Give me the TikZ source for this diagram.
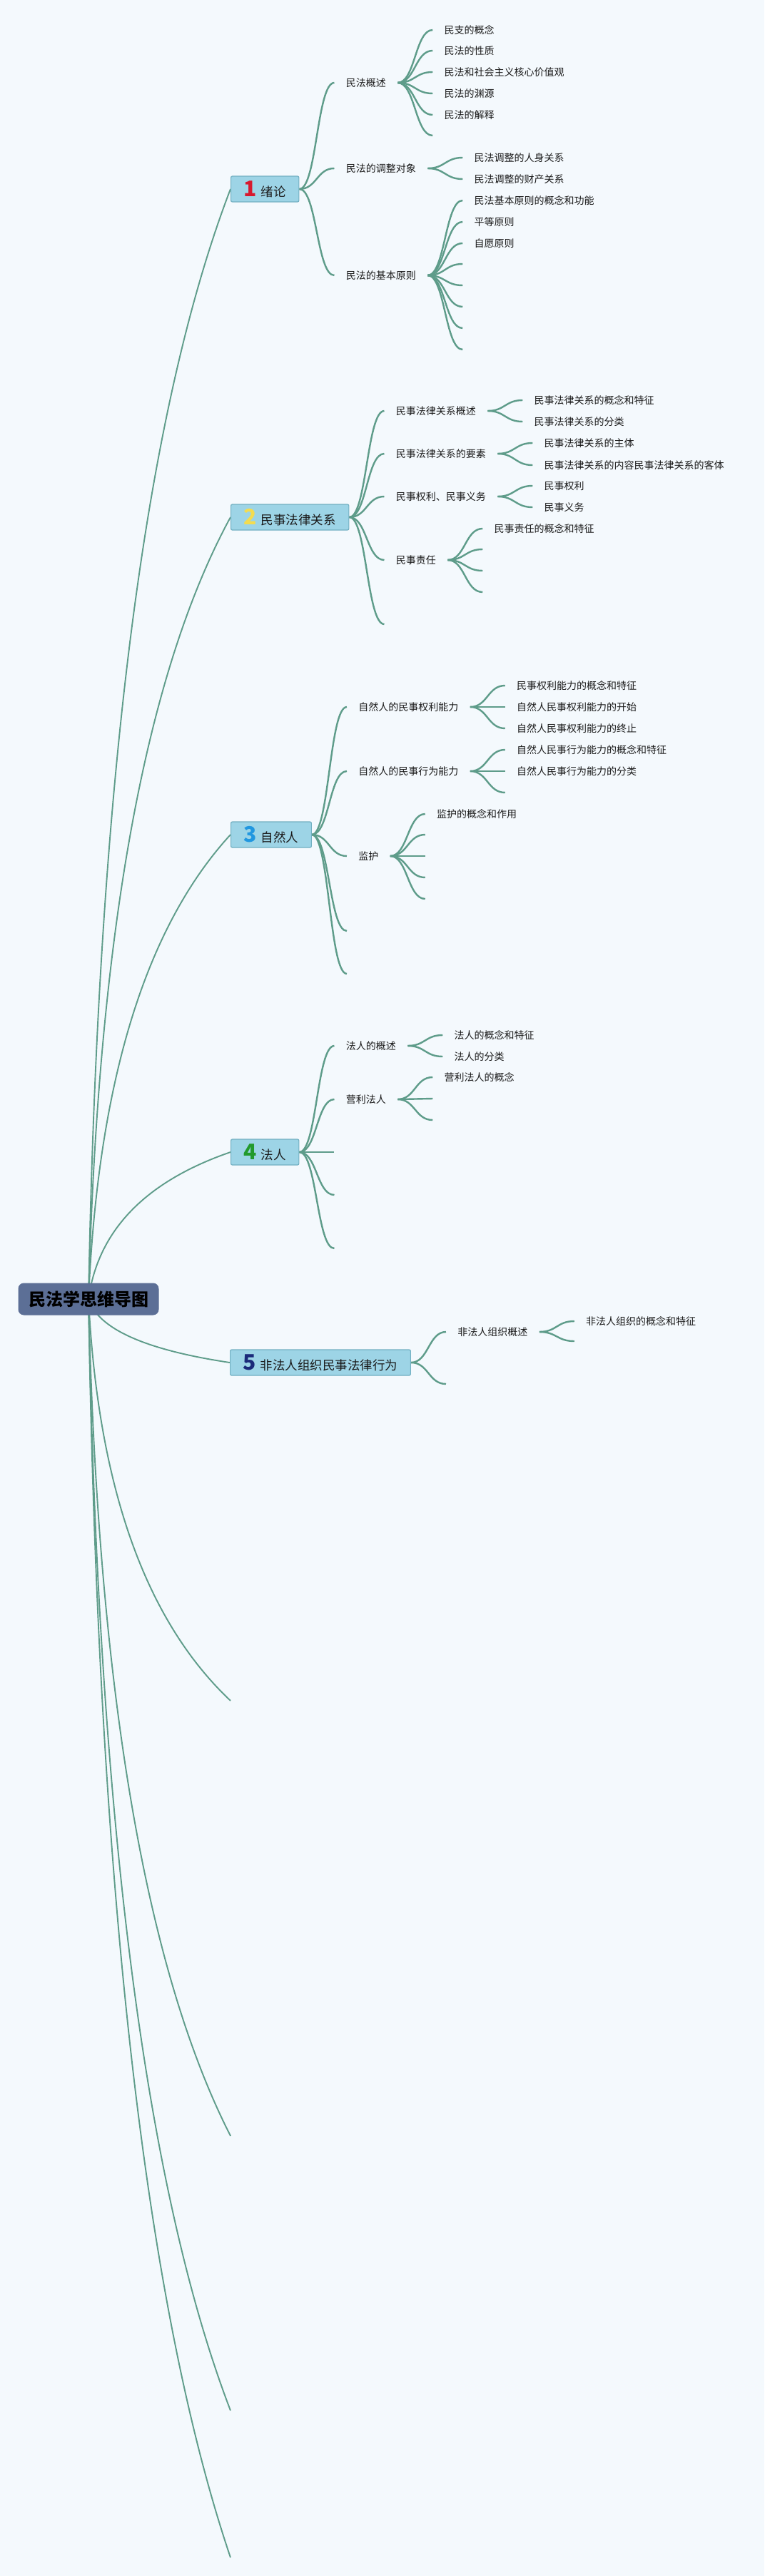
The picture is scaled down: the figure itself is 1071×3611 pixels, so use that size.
\documentclass[tikz,border=0pt]{standalone}
\usepackage{fontspec}
\setmainfont{Noto Sans CJK SC}
\usetikzlibrary{calc}
\definecolor{bgc}{HTML}{F4F9FD}
\definecolor{lnc}{HTML}{5E9C8A}
\definecolor{boxfill}{HTML}{9DD4E6}
\definecolor{boxline}{HTML}{72B0C2}
\definecolor{rootfill}{HTML}{5C6F96}
\definecolor{txt}{HTML}{1A1A1A}
\definecolor{n1}{HTML}{D7192E}
\definecolor{n2}{HTML}{F3DC50}
\definecolor{n3}{HTML}{2197E0}
\definecolor{n4}{HTML}{229A2C}
\definecolor{n5}{HTML}{1B2A7A}
\pgfdeclarelayer{back}
\pgfdeclarelayer{bg}
\pgfsetlayers{back,bg,main}
\tikzset{
  x=0.5pt, y=-0.5pt,
  topic/.style={anchor=west, inner xsep=8pt, inner ysep=1pt, text=txt,
    font=\fontsize{7pt}{8.4pt}\selectfont},
  mbox/.style={anchor=west, draw=boxline, fill=boxfill, line width=0.6pt,
    rounded corners=1pt, minimum height=18pt, inner xsep=9pt, inner ysep=1pt,
    text=txt, font=\fontsize{8.75pt}{10pt}\selectfont},
  rootbox/.style={fill=rootfill, rounded corners=4pt, minimum width=98.5pt,
    minimum height=22.5pt, inner xsep=7pt, text=black,
    font=\fontsize{12pt}{14pt}\selectfont\bfseries},
  rline/.style={draw=lnc, line width=0.95pt},
  sline/.style={draw=lnc, line width=1.2pt},
}
\newcommand\rlink[2]{\draw[rline] let \p1=(#1), \p2=(#2) in (\p1) .. controls ({\x1+0.0667*(\x2-\x1)},{\y1+0.4667*(\y2-\y1)}) and ({\x2-0.6*(\x2-\x1)},{\y2-0.2*(\y2-\y1)}) .. (\p2);}
\newcommand\slink[2]{\draw[sline] let \p1=(#1), \p2=(#2) in (\p1) .. controls ({0.5*\x1+0.5*\x2},\y1) and ({0.5*\x1+0.5*\x2},\y2) .. (\p2);}
\newcommand\tpnode[4]{\node[topic] (#1) at ($(#2.east |- 0,#3)+(49,0)$) {#4};
  \begin{pgfonlayer}{bg}\slink{#2.east}{#1.west}\end{pgfonlayer}}
\newcommand\epnode[3]{\coordinate (#1) at ($(#2.east |- 0,#3)+(49,0)$);
  \begin{pgfonlayer}{bg}\slink{#2.east}{#1}\end{pgfonlayer}}
\newcommand\dg[2]{{\bfseries\fontsize{15pt}{15pt}\selectfont\color{#1}#2}\hspace{3pt}}
\begin{document}
\begin{tikzpicture}
\begin{pgfonlayer}{back}
\fill[bgc] (0,0) rectangle (1071,3611);
\end{pgfonlayer}
\useasboundingbox (0,0) rectangle (1071,3611);

% root and main topics
\node[rootbox] (root) at (124,1821) {民法学思维导图};
\node[mbox] (b1) at (323,265) {\dg{n1}{1}绪论};
\node[mbox] (b2) at (323,725) {\dg{n2}{2}民事法律关系};
\node[mbox] (b3) at (323,1170) {\dg{n3}{3}自然人};
\node[mbox] (b4) at (323,1615) {\dg{n4}{4}法人};
\node[mbox] (b5) at (322,1910) {\dg{n5}{5}非法人组织民事法律行为};
\coordinate (b6) at (323,2384);
\coordinate (b7) at (323,2994);
\coordinate (b8) at (323,3379);
\coordinate (b9) at (323,3585);
\begin{pgfonlayer}{bg}
\rlink{root.center}{b1.west}
\rlink{root.center}{b2.west}
\rlink{root.center}{b3.west}
\rlink{root.center}{b4.west}
\rlink{root.center}{b5.west}
\rlink{root.center}{b6}
\rlink{root.center}{b7}
\rlink{root.center}{b8}
\rlink{root.center}{b9}
\end{pgfonlayer}

% 1 绪论
\tpnode{s11}{b1}{116}{民法概述}
\tpnode{s12}{b1}{236}{民法的调整对象}
\tpnode{s13}{b1}{386}{民法的基本原则}
\tpnode{l111}{s11}{42}{民支的概念}
\tpnode{l112}{s11}{71}{民法的性质}
\tpnode{l113}{s11}{101}{民法和社会主义核心价值观}
\tpnode{l114}{s11}{131}{民法的渊源}
\tpnode{l115}{s11}{161}{民法的解释}
\epnode{l116}{s11}{190}
\tpnode{l121}{s12}{221}{民法调整的人身关系}
\tpnode{l122}{s12}{251}{民法调整的财产关系}
\tpnode{l131}{s13}{281}{民法基本原则的概念和功能}
\tpnode{l132}{s13}{311}{平等原则}
\tpnode{l133}{s13}{341}{自愿原则}
\epnode{l134}{s13}{370}
\epnode{l135}{s13}{400}
\epnode{l136}{s13}{430}
\epnode{l137}{s13}{460}
\epnode{l138}{s13}{490}

% 2 民事法律关系
\tpnode{s21}{b2}{576}{民事法律关系概述}
\tpnode{s22}{b2}{636}{民事法律关系的要素}
\tpnode{s23}{b2}{696}{民事权利、民事义务}
\tpnode{s24}{b2}{785}{民事责任}
\epnode{s25}{b2}{875}
\tpnode{l211}{s21}{561}{民事法律关系的概念和特征}
\tpnode{l212}{s21}{591}{民事法律关系的分类}
\tpnode{l221}{s22}{621}{民事法律关系的主体}
\tpnode{l222}{s22}{652}{民事法律关系的内容民事法律关系的客体}
\tpnode{l231}{s23}{681}{民事权利}
\tpnode{l232}{s23}{711}{民事义务}
\tpnode{l241}{s24}{741}{民事责任的概念和特征}
\epnode{l242}{s24}{770}
\epnode{l243}{s24}{800}
\epnode{l244}{s24}{830}

% 3 自然人
\tpnode{s31}{b3}{991}{自然人的民事权利能力}
\tpnode{s32}{b3}{1081}{自然人的民事行为能力}
\tpnode{s33}{b3}{1200}{监护}
\epnode{s34}{b3}{1305}
\epnode{s35}{b3}{1365}
\tpnode{l311}{s31}{961}{民事权利能力的概念和特征}
\tpnode{l312}{s31}{991}{自然人民事权利能力的开始}
\tpnode{l313}{s31}{1021}{自然人民事权利能力的终止}
\tpnode{l321}{s32}{1051}{自然人民事行为能力的概念和特征}
\tpnode{l322}{s32}{1081}{自然人民事行为能力的分类}
\epnode{l323}{s32}{1111}
\tpnode{l331}{s33}{1141}{监护的概念和作用}
\epnode{l332}{s33}{1170}
\epnode{l333}{s33}{1200}
\epnode{l334}{s33}{1230}
\epnode{l335}{s33}{1260}

% 4 法人
\tpnode{s41}{b4}{1466}{法人的概述}
\tpnode{s42}{b4}{1541}{营利法人}
\epnode{s43}{b4}{1615}
\epnode{s44}{b4}{1675}
\epnode{s45}{b4}{1750}
\tpnode{l411}{s41}{1451}{法人的概念和特征}
\tpnode{l412}{s41}{1481}{法人的分类}
\tpnode{l421}{s42}{1510}{营利法人的概念}
\epnode{l422}{s42}{1540}
\epnode{l423}{s42}{1570}

% 5 非法人组织民事法律行为
\tpnode{s51}{b5}{1867}{非法人组织概述}
\epnode{s52}{b5}{1940}
\tpnode{l511}{s51}{1852}{非法人组织的概念和特征}
\epnode{l512}{s51}{1880}
\end{tikzpicture}
\end{document}
